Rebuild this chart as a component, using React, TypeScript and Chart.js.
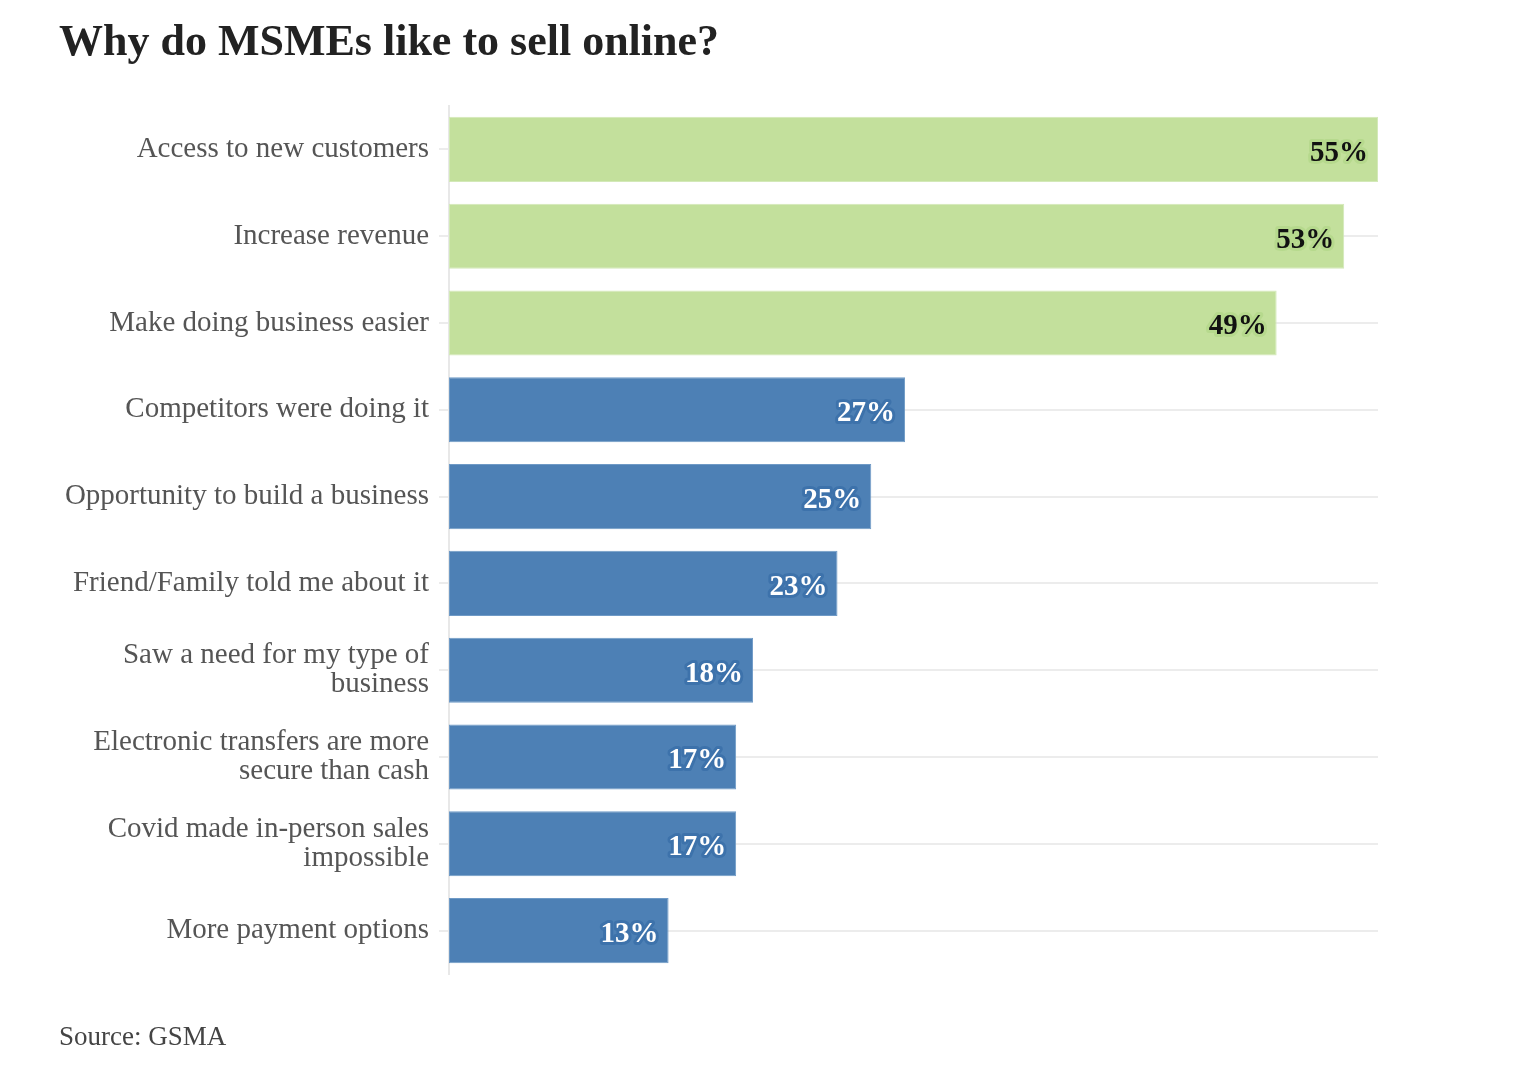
import React, { useEffect, useRef } from "react";
import { Chart, registerables } from "chart.js";

Chart.register(...registerables);

const categories: (string | string[])[] = [
  "Access to new customers",
  "Increase revenue",
  "Make doing business easier",
  "Competitors were doing it",
  "Opportunity to build a business",
  "Friend/Family told me about it",
  ["Saw a need for my type of", "business"],
  ["Electronic transfers are more", "secure than cash"],
  ["Covid made in-person sales", "impossible"],
  "More payment options",
];

const values: number[] = [55, 53, 49, 27, 25, 23, 18, 17, 17, 13];

const groups: string[] = ["top", "top", "top", "other", "other", "other", "other", "other", "other", "other"];

const titleText = "Why do MSMEs like to sell online?";
const sourceText = "Source: GSMA";

const GREEN = "#c3e09c";
const GREEN_EDGE = "#d3e9b8";
const GREEN_HALO = "#b6d98d";
const BLUE = "#4d80b5";
const BLUE_EDGE = "#6f9ac6";
const BLUE_HALO = "#3d72ab";

const SERIF = "'Liberation Serif', 'Times New Roman', serif";

const labelPlugin = {
  id: "barValueLabels",
  afterDatasetsDraw(chart: any) {
    const ctx = chart.ctx;
    const meta = chart.getDatasetMeta(0);
    ctx.save();
    ctx.font = `bold 29px ${SERIF}`;
    ctx.textAlign = "right";
    ctx.textBaseline = "middle";
    ctx.lineJoin = "round";
    meta.data.forEach((bar: any, i: number) => {
      const isTop = groups[i] === "top";
      const text = `${values[i]}%`;
      const x = bar.x - 10;
      const y = bar.y + 4;
      ctx.lineWidth = 6;
      ctx.strokeStyle = isTop ? GREEN_HALO : BLUE_HALO;
      ctx.strokeText(text, x, y);
      ctx.fillStyle = isTop ? "#111111" : "#ffffff";
      ctx.fillText(text, x, y);
    });
    ctx.restore();
  },
};

export default function App() {
  const ref = useRef<HTMLCanvasElement | null>(null);

  useEffect(() => {
    if (!ref.current) return;
    const chart = new Chart(ref.current, {
      type: "bar",
      data: {
        labels: categories,
        datasets: [
          {
            data: values,
            backgroundColor: groups.map((g) => (g === "top" ? GREEN : BLUE)),
            borderColor: groups.map((g) => (g === "top" ? GREEN_EDGE : BLUE_EDGE)),
            borderWidth: 1,
            borderSkipped: false,
            categoryPercentage: 1,
            barPercentage: 0.75,
          },
        ],
      },
      options: {
        indexAxis: "y",
        animation: false,
        responsive: false,
        maintainAspectRatio: false,
        layout: { padding: { left: 59, right: 142, top: 0, bottom: 0 } },
        plugins: {
          legend: { display: false },
          tooltip: { enabled: false },
          title: {
            display: true,
            text: titleText,
            align: "start",
            color: "#222222",
            font: { family: SERIF, size: 44, weight: "bold", lineHeight: 1.2 },
            padding: { top: 17, bottom: 36.2 },
          },
          subtitle: {
            display: true,
            position: "bottom",
            text: sourceText,
            align: "start",
            color: "#444444",
            font: { family: SERIF, size: 27, weight: "normal", lineHeight: 1.2 },
            padding: { top: 48, bottom: 25.6 },
          },
        },
        scales: {
          x: {
            display: false,
            min: 0,
            max: 55,
          },
          y: {
            afterFit: (scale: any) => {
              scale.width = 390;
            },
            border: { display: true, color: "#e8e8e8", width: 2 },
            grid: {
              display: true,
              offset: false,
              color: "#ececec",
              lineWidth: 2,
              tickLength: 10,
              drawTicks: true,
            },
            ticks: {
              color: "#555555",
              padding: 10,
              font: { family: SERIF, size: 29, lineHeight: 1.0 },
            },
          },
        },
      },
      plugins: [labelPlugin],
    });
    return () => chart.destroy();
  }, []);

  return (
    <div style={{ position: "absolute", left: 0, top: 0, width: 1520, height: 1080, background: "#ffffff" }}>
      <canvas ref={ref} width={1520} height={1080} style={{ width: 1520, height: 1080, display: "block" }} />
    </div>
  );
}
